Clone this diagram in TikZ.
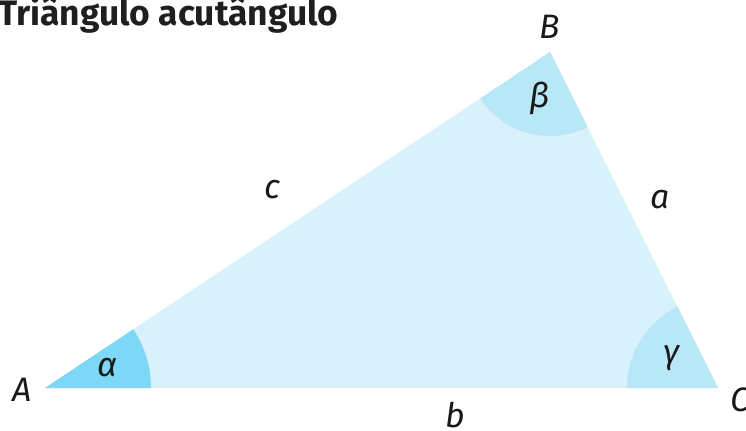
\documentclass[tikz,border=0pt]{standalone}
\usepackage{fontspec}
\setmainfont{Fira Sans}
\begin{document}
\begin{tikzpicture}[x=1bp,y=1bp,
  lbl/.style={font=\fontsize{34}{40}\selectfont\itshape, text=black!90, inner sep=0pt},
  title/.style={font=\fontsize{35.5}{40}\selectfont\bfseries, text=black!88, inner sep=0pt, anchor=base west}]
\useasboundingbox (0,0) rectangle (746,430);
\definecolor{tri}{HTML}{D9F1FB}
\definecolor{angA}{HTML}{7DD8F7}
\definecolor{angBC}{HTML}{B8E7F8}
\coordinate (A) at (45,42);
\coordinate (B) at (550,378);
\coordinate (C) at (718,42);
\fill[tri] (A) -- (B) -- (C) -- cycle;
\begin{scope}
  \clip (A) -- (B) -- (C) -- cycle;
  \fill[angA] (A) circle (106);
  \fill[angBC] (B) circle (84);
  \fill[angBC] (C) circle (91);
\end{scope}
\node[title] (t) at (-2,404) {Triângulo acutângulo};
\node[lbl] (lA) at (22,40) {A};
\node[lbl] (lB) at (550,403) {B};
\node[lbl] (lC) at (740,30) {C};
\node[lbl] (lc) at (272,240) {c};
\node[lbl] (la) at (660,230) {a};
\node[lbl] (lb) at (455,15) {b};
\node[lbl] (al) at (108,62) {α};
\node[lbl] (be) at (540,332) {β};
\node[lbl] (ga) at (672,72) {γ};
\end{tikzpicture}
\end{document}
